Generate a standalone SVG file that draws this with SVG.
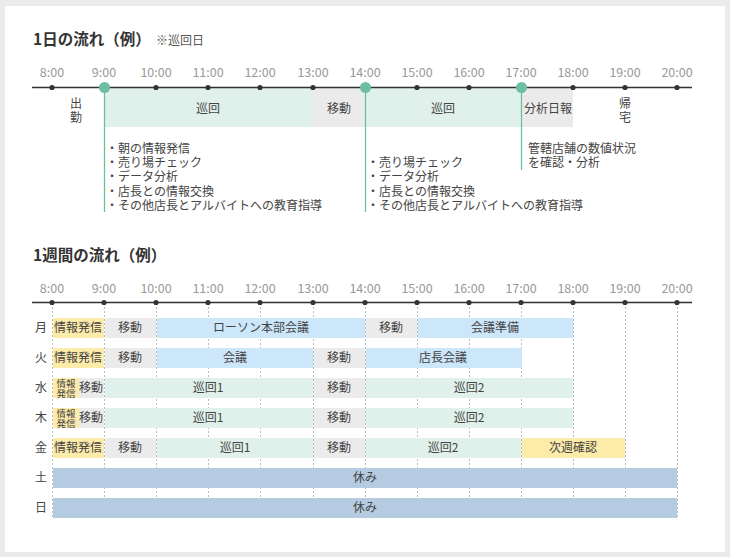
<svg xmlns="http://www.w3.org/2000/svg" width="730" height="557" viewBox="0 0 730 557">
<style>
text{font-family:"Noto Sans CJK JP","Noto Sans",sans-serif;fill:#444;font-size:12px}
.title{font-size:15.5px;font-weight:bold;fill:#333}
.note{font-size:12px;fill:#555}
.hr{fill:#999;font-size:12.5px;text-anchor:middle}
.c{text-anchor:middle}
.sm{font-size:9.5px}
.axis{stroke:#333;stroke-width:1.3}
.tick{fill:#333}
.gl{stroke:#bbb;stroke-width:1;stroke-dasharray:2 2}
.vl{stroke:#6cc0a0;stroke-width:1.3}
.grn{fill:#e0f0ea}
.gry{fill:#ebebeb}
.blu{fill:#cce6fa}
.yel{fill:#fdeba9}
.off{fill:#b5cbe2}
</style>
<rect x="0" y="0" width="730" height="557" fill="#ebebeb"/>
<rect x="5" y="6" width="720" height="546" fill="#fff"/>

<g id="daily">
<text class="title" x="33" y="45">1日の流れ（例）</text>
<text class="note" x="156" y="45">※巡回日</text>
<g id="daily-hours">
<text class="hr" x="52" y="77">8:00</text><text class="hr" x="104" y="77">9:00</text><text class="hr" x="156" y="77">10:00</text><text class="hr" x="208" y="77">11:00</text><text class="hr" x="260" y="77">12:00</text><text class="hr" x="313" y="77">13:00</text><text class="hr" x="365" y="77">14:00</text><text class="hr" x="417" y="77">15:00</text><text class="hr" x="469" y="77">16:00</text><text class="hr" x="521" y="77">17:00</text><text class="hr" x="573" y="77">18:00</text><text class="hr" x="625" y="77">19:00</text><text class="hr" x="677" y="77">20:00</text>
</g>
<g id="d-junkai1"><rect class="grn" x="104" y="88" width="209" height="39"/><text class="c" x="208" y="113">巡回</text></g>
<g id="d-idou"><rect class="gry" x="313" y="88" width="52" height="39"/><text class="c" x="339" y="113">移動</text></g>
<g id="d-junkai2"><rect class="grn" x="365" y="88" width="156" height="39"/><text class="c" x="443" y="113">巡回</text></g>
<g id="d-nippo"><rect class="gry" x="521" y="88" width="52" height="39"/><text class="c" x="548" y="113">分析日報</text></g>
<g id="d-shukkin"><text class="c" x="76" y="108">出</text><text class="c" x="76" y="122">勤</text></g>
<g id="d-kitaku"><text class="c" x="625" y="108">帰</text><text class="c" x="625" y="122">宅</text></g>
</g>

<g id="connectors">
<line class="axis" x1="32" y1="87.5" x2="692" y2="87.5"/>
<g class="tick"><circle cx="52" cy="87.5" r="2.6"/><circle cx="156" cy="87.5" r="2.6"/><circle cx="208" cy="87.5" r="2.6"/><circle cx="260" cy="87.5" r="2.6"/><circle cx="313" cy="87.5" r="2.6"/><circle cx="417" cy="87.5" r="2.6"/><circle cx="469" cy="87.5" r="2.6"/><circle cx="573" cy="87.5" r="2.6"/><circle cx="625" cy="87.5" r="2.6"/><circle cx="677" cy="87.5" r="2.6"/></g>
<line class="vl" x1="104.5" y1="88" x2="104.5" y2="212"/>
<line class="vl" x1="365.5" y1="88" x2="365.5" y2="212"/>
<line class="vl" x1="521.5" y1="88" x2="521.5" y2="170"/>
<g fill="#6cc0a0"><circle cx="104.5" cy="87.5" r="5.5"/><circle cx="365.5" cy="87.5" r="5.5"/><circle cx="521.5" cy="87.5" r="5.5"/></g>
</g>

<g id="d-list1">
<text x="106" y="153">・朝の情報発信</text>
<text x="106" y="167">・売り場チェック</text>
<text x="106" y="181">・データ分析</text>
<text x="106" y="196">・店長との情報交換</text>
<text x="106" y="210">・その他店長とアルバイトへの教育指導</text>
</g>
<g id="d-list2">
<text x="367" y="167">・売り場チェック</text>
<text x="367" y="181">・データ分析</text>
<text x="367" y="196">・店長との情報交換</text>
<text x="367" y="210">・その他店長とアルバイトへの教育指導</text>
</g>
<g id="d-list3">
<text x="528" y="153">管轄店舗の数値状況</text>
<text x="528" y="167">を確認・分析</text>
</g>

<g id="weekly">
<text class="title" x="33" y="261">1週間の流れ（例）</text>
<g id="weekly-hours">
<text class="hr" x="52" y="293">8:00</text><text class="hr" x="104" y="293">9:00</text><text class="hr" x="156" y="293">10:00</text><text class="hr" x="208" y="293">11:00</text><text class="hr" x="260" y="293">12:00</text><text class="hr" x="313" y="293">13:00</text><text class="hr" x="365" y="293">14:00</text><text class="hr" x="417" y="293">15:00</text><text class="hr" x="469" y="293">16:00</text><text class="hr" x="521" y="293">17:00</text><text class="hr" x="573" y="293">18:00</text><text class="hr" x="625" y="293">19:00</text><text class="hr" x="677" y="293">20:00</text>
</g>
<g id="grid">
<line class="gl" x1="52.5" y1="303" x2="52.5" y2="519"/><line class="gl" x1="104.5" y1="303" x2="104.5" y2="519"/><line class="gl" x1="156.5" y1="303" x2="156.5" y2="519"/><line class="gl" x1="208.5" y1="303" x2="208.5" y2="519"/><line class="gl" x1="260.5" y1="303" x2="260.5" y2="519"/><line class="gl" x1="313.5" y1="303" x2="313.5" y2="519"/><line class="gl" x1="365.5" y1="303" x2="365.5" y2="519"/><line class="gl" x1="417.5" y1="303" x2="417.5" y2="519"/><line class="gl" x1="469.5" y1="303" x2="469.5" y2="519"/><line class="gl" x1="521.5" y1="303" x2="521.5" y2="519"/><line class="gl" x1="573.5" y1="303" x2="573.5" y2="519"/><line class="gl" x1="625.5" y1="303" x2="625.5" y2="519"/><line class="gl" x1="677.5" y1="303" x2="677.5" y2="519"/>
</g>
<line class="axis" x1="32" y1="302.5" x2="692" y2="302.5"/>
<g class="tick"><circle cx="52" cy="302.5" r="2.6"/><circle cx="104" cy="302.5" r="2.6"/><circle cx="156" cy="302.5" r="2.6"/><circle cx="208" cy="302.5" r="2.6"/><circle cx="260" cy="302.5" r="2.6"/><circle cx="313" cy="302.5" r="2.6"/><circle cx="365" cy="302.5" r="2.6"/><circle cx="417" cy="302.5" r="2.6"/><circle cx="469" cy="302.5" r="2.6"/><circle cx="521" cy="302.5" r="2.6"/><circle cx="573" cy="302.5" r="2.6"/><circle cx="625" cy="302.5" r="2.6"/><circle cx="677" cy="302.5" r="2.6"/></g>

<g id="mon">
<text class="c" x="41" y="332">月</text>
<rect class="yel" x="53" y="318" width="51" height="20"/><text class="c" x="78" y="332">情報発信</text>
<rect class="gry" x="105" y="318" width="51" height="20"/><text class="c" x="130" y="332">移動</text>
<rect class="blu" x="157" y="318" width="208" height="20"/><text class="c" x="261" y="332">ローソン本部会議</text>
<rect class="gry" x="366" y="318" width="51" height="20"/><text class="c" x="391" y="332">移動</text>
<rect class="blu" x="418" y="318" width="155" height="20"/><text class="c" x="495" y="332">会議準備</text>
</g>
<g id="tue">
<text class="c" x="41" y="362">火</text>
<rect class="yel" x="53" y="348" width="51" height="20"/><text class="c" x="78" y="362">情報発信</text>
<rect class="gry" x="105" y="348" width="51" height="20"/><text class="c" x="130" y="362">移動</text>
<rect class="blu" x="157" y="348" width="156" height="20"/><text class="c" x="235" y="362">会議</text>
<rect class="gry" x="314" y="348" width="51" height="20"/><text class="c" x="339" y="362">移動</text>
<rect class="blu" x="366" y="348" width="156" height="20"/><text class="c" x="443" y="362">店長会議</text>
</g>
<g id="wed">
<text class="c" x="41" y="392">水</text>
<rect class="yel" x="53" y="378" width="26" height="20"/><text class="c sm" x="66" y="386.5">情報</text><text class="c sm" x="66" y="397">発信</text>
<rect class="gry" x="79" y="378" width="25" height="20"/><text class="c" x="91" y="392">移動</text>
<rect class="grn" x="105" y="378" width="208" height="20"/><text class="c" x="208" y="392">巡回1</text>
<rect class="gry" x="314" y="378" width="51" height="20"/><text class="c" x="339" y="392">移動</text>
<rect class="grn" x="366" y="378" width="207" height="20"/><text class="c" x="469" y="392">巡回2</text>
</g>
<g id="thu">
<text class="c" x="41" y="422">木</text>
<rect class="yel" x="53" y="408" width="26" height="20"/><text class="c sm" x="66" y="416.5">情報</text><text class="c sm" x="66" y="427">発信</text>
<rect class="gry" x="79" y="408" width="25" height="20"/><text class="c" x="91" y="422">移動</text>
<rect class="grn" x="105" y="408" width="208" height="20"/><text class="c" x="208" y="422">巡回1</text>
<rect class="gry" x="314" y="408" width="51" height="20"/><text class="c" x="339" y="422">移動</text>
<rect class="grn" x="366" y="408" width="207" height="20"/><text class="c" x="469" y="422">巡回2</text>
</g>
<g id="fri">
<text class="c" x="41" y="452">金</text>
<rect class="yel" x="53" y="438" width="51" height="20"/><text class="c" x="78" y="452">情報発信</text>
<rect class="gry" x="105" y="438" width="51" height="20"/><text class="c" x="130" y="452">移動</text>
<rect class="grn" x="157" y="438" width="156" height="20"/><text class="c" x="235" y="452">巡回1</text>
<rect class="gry" x="314" y="438" width="51" height="20"/><text class="c" x="339" y="452">移動</text>
<rect class="grn" x="366" y="438" width="155" height="20"/><text class="c" x="443" y="452">巡回2</text>
<rect class="yel" x="522" y="438" width="103" height="20"/><text class="c" x="573" y="452">次週確認</text>
</g>
<g id="sat">
<text class="c" x="41" y="482">土</text>
<rect class="off" x="53" y="468" width="624" height="20"/><text class="c" x="365" y="482">休み</text>
</g>
<g id="sun">
<text class="c" x="41" y="512">日</text>
<rect class="off" x="53" y="498" width="624" height="20"/><text class="c" x="365" y="512">休み</text>
</g>
</g>
</svg>
